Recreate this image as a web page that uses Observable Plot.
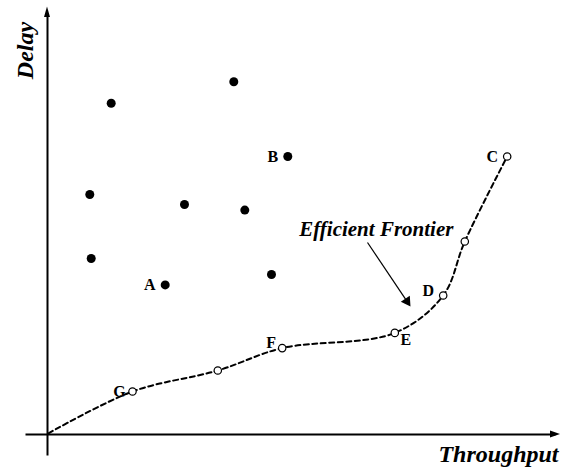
<!DOCTYPE html>
<html>
<head>
<meta charset="utf-8">
<script src="https://cdn.jsdelivr.net/npm/d3@7"></script>
<script src="https://cdn.jsdelivr.net/npm/@observablehq/plot@0.6"></script>
<style>
  html, body { margin: 0; padding: 0; background: #fff; }
  #chart svg { display: block; }
</style>
</head>
<body>
<div id="chart"></div>
<script>
// ---- data (abstract units: throughput 0..100, delay 0..100) ----
const dominatedX = [12.74, 37.26, 48.06, 8.46, 27.4, 39.46, 8.74, 44.8, 23.54];
const dominatedY = [82.8, 88.2, 69.5, 60, 57.5, 56.1, 44, 40, 37.4];
const dominatedLabels = ["", "", "B", "", "", "", "", "", "A"];

const frontierX = [0.2, 17, 34.06, 46.94, 69.46, 79.14, 83.46, 91.94];
const frontierY = [0.3, 10.75, 16, 21.6, 25.4, 34.75, 48.25, 69.5];
const frontierLabels = ["", "G", "", "F", "E", "D", "", "C"];

const axisTitles = {x: "Throughput", y: "Delay"};
const annotationText = "Efficient Frontier";
const annotationFrom = [64, 48];
const annotationTo = [72.6, 32];

// ---- build tables ----
const dominated = dominatedX.map((x, i) => ({x, y: dominatedY[i], label: dominatedLabels[i]}));
const frontier = frontierX.map((x, i) => ({x, y: frontierY[i], label: frontierLabels[i]}));
const frontierPts = frontier.slice(1);

const W = 563, H = 468;
const mL = 47, mR = 16, mT = 34, mB = 34;
const pxPerX = (W - mL - mR) / 100;   // 5
const pxPerY = (H - mT - mB) / 100;   // 4
const font = "'Liberation Serif', 'Times New Roman', Times, serif";

// axis extents (in data units)
const xAxisLine = [{x1: -4.4, y1: 0, x2: 101.6, y2: 0}];
const yAxisLine = [{x1: 0, y1: -5.25, x2: 0, y2: 105}];
const xHead = [{x: 100.6, y1: -0.875, y2: 0.875}, {x: 102.6, y1: 0, y2: 0}];
const yHead = [{y: 104.25, x1: -0.6, x2: 0.6}, {y: 106.875, x1: 0, x2: 0}];

// annotation arrowhead geometry (pixel space)
const adx = (annotationTo[0] - annotationFrom[0]) * pxPerX;
const ady = -(annotationTo[1] - annotationFrom[1]) * pxPerY;
const alen = Math.hypot(adx, ady);
const ux = adx / alen, uy = ady / alen;
const headR = 4;
const tipToCentroid = 2 * Math.sqrt(Math.PI * headR * headR / (Math.sqrt(3) * 3));
const headCenter = {
  x: annotationTo[0] - tipToCentroid * ux / pxPerX,
  y: annotationTo[1] + tipToCentroid * uy / pxPerY
};
const headRotate = Math.atan2(ux, -uy) * 180 / Math.PI;

const labelOffsets = {
  A: [-15.5, 0], B: [-15, 0], C: [-15, 0], D: [-15, -5],
  E: [11, 7], F: [-11, -5], G: [-13, 0]
};
const labelled = [...dominated, ...frontierPts].filter(d => d.label);

const chart = Plot.plot({
  width: W, height: H,
  marginLeft: mL, marginRight: mR, marginTop: mT, marginBottom: mB,
  x: {domain: [0, 100], axis: null},
  y: {domain: [0, 100], axis: null},
  style: {background: "#fff", fontFamily: font, overflow: "visible"},
  marks: [
    // axes
    Plot.link(xAxisLine, {x1: "x1", y1: "y1", x2: "x2", y2: "y2", stroke: "#000", strokeWidth: 2}),
    Plot.link(yAxisLine, {x1: "x1", y1: "y1", x2: "x2", y2: "y2", stroke: "#000", strokeWidth: 2}),
    Plot.areaY(xHead, {x: "x", y1: "y1", y2: "y2", fill: "#000"}),
    Plot.areaX(yHead, {y: "y", x1: "x1", x2: "x2", fill: "#000"}),
    // frontier curve
    Plot.line(frontier, {x: "x", y: "y", curve: "catmull-rom", stroke: "#000", strokeWidth: 2, strokeDasharray: "5,3.5"}),
    Plot.dot(frontierPts, {x: "x", y: "y", r: 3.7, stroke: "#000", strokeWidth: 1.2, fill: "#fff"}),
    // dominated points
    Plot.dot(dominated, {x: "x", y: "y", r: 4.5, fill: "#000", stroke: "none"}),
    // point labels
    ...labelled.map(d => Plot.text([d], {
      x: "x", y: "y", text: "label",
      dx: labelOffsets[d.label][0], dy: labelOffsets[d.label][1],
      fontSize: 16, fontWeight: "bold", fontFamily: font, fill: "#000", lineAnchor: "middle"
    })),
    // annotation
    Plot.text([annotationText], {
      x: 65.76, y: 51.2, text: d => d, fontSize: 21, fontWeight: "bold", fontStyle: "italic",
      fontFamily: font, fill: "#000", lineAnchor: "middle"
    }),
    Plot.link([{x1: annotationFrom[0], y1: annotationFrom[1], x2: headCenter.x, y2: headCenter.y}],
      {x1: "x1", y1: "y1", x2: "x2", y2: "y2", stroke: "#000", strokeWidth: 1.2}),
    Plot.dot([headCenter], {x: "x", y: "y", symbol: "triangle", r: headR, fill: "#000", stroke: "none", rotate: headRotate}),
    // axis titles
    Plot.text([axisTitles.x], {
      x: 102.2, y: -5, text: d => d, textAnchor: "end", fontSize: 24, fontWeight: "bold",
      fontStyle: "italic", fontFamily: font, fill: "#000", lineAnchor: "middle"
    }),
    Plot.text([axisTitles.y], {
      x: -4.34, y: 96, text: d => d, rotate: -90, fontSize: 24, fontWeight: "bold",
      fontStyle: "italic", fontFamily: font, fill: "#000", lineAnchor: "middle"
    })
  ]
});
document.getElementById("chart").appendChild(chart);
</script>
</body>
</html>
